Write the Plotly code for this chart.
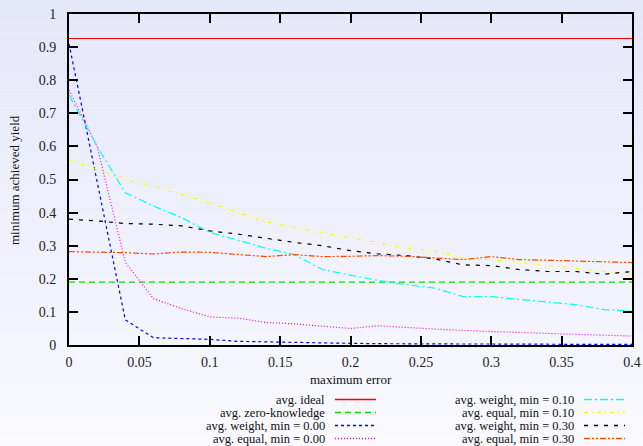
import plotly.graph_objects as go

# ---------------- data ----------------
max_error = [0.00, 0.02, 0.04, 0.06, 0.08, 0.10, 0.12, 0.14, 0.16, 0.18, 0.20,
             0.22, 0.24, 0.26, 0.28, 0.30, 0.32, 0.34, 0.36, 0.38, 0.40]

avg_ideal = [0.926] * len(max_error)
avg_zero_knowledge = [0.190] * len(max_error)

weight_min_000 = [0.910, 0.495, 0.076, 0.022, 0.020, 0.017, 0.011, 0.009, 0.007, 0.006, 0.005,
                  0.004, 0.003, 0.003, 0.003, 0.003, 0.002, 0.002, 0.002, 0.002, 0.002]
equal_min_000 = [0.770, 0.600, 0.250, 0.140, 0.110, 0.085, 0.081, 0.068, 0.064, 0.058, 0.050,
                 0.058, 0.052, 0.048, 0.044, 0.042, 0.038, 0.035, 0.032, 0.030, 0.027]
weight_min_010 = [0.755, 0.600, 0.460, 0.420, 0.385, 0.340, 0.317, 0.292, 0.273, 0.228, 0.211,
                  0.195, 0.182, 0.172, 0.146, 0.146, 0.138, 0.130, 0.122, 0.107, 0.103]
equal_min_010 = [0.560, 0.530, 0.500, 0.480, 0.455, 0.430, 0.400, 0.373, 0.355, 0.340, 0.325,
                 0.308, 0.293, 0.284, 0.262, 0.258, 0.250, 0.240, 0.232, 0.222, 0.210]
weight_min_030 = [0.380, 0.375, 0.367, 0.365, 0.360, 0.345, 0.335, 0.322, 0.310, 0.300, 0.285,
                  0.275, 0.270, 0.260, 0.242, 0.240, 0.228, 0.222, 0.222, 0.214, 0.222]
equal_min_030 = [0.282, 0.281, 0.279, 0.275, 0.281, 0.280, 0.274, 0.267, 0.273, 0.267, 0.268,
                 0.270, 0.268, 0.262, 0.258, 0.267, 0.258, 0.256, 0.254, 0.252, 0.249]

series_names = ["avg. ideal", "avg. zero-knowledge",
                "avg. weight, min = 0.00", "avg. equal, min = 0.00",
                "avg. weight, min = 0.10", "avg. equal, min = 0.10",
                "avg. weight, min = 0.30", "avg. equal, min = 0.30"]
series_values = [avg_ideal, avg_zero_knowledge, weight_min_000, equal_min_000,
                 weight_min_010, equal_min_010, weight_min_030, equal_min_030]

x_ticks = [0, 0.05, 0.1, 0.15, 0.2, 0.25, 0.3, 0.35, 0.4]
x_tick_labels = ["0", "0.05", "0.1", "0.15", "0.2", "0.25", "0.3", "0.35", "0.4"]
y_ticks = [0, 0.1, 0.2, 0.3, 0.4, 0.5, 0.6, 0.7, 0.8, 0.9, 1]
y_tick_labels = ["0", "0.1", "0.2", "0.3", "0.4", "0.5", "0.6", "0.7", "0.8", "0.9", "1"]

# ---------------- styles ----------------
colors = ["#ff0000", "#00e000", "#0000ff", "#ff00ff",
          "#00ffff", "#ffff00", "#000000", "#ff4500"]
dashes = ["solid", "6px,4px", "3px,3px", "1px,2px",
          "8px,3px,2px,3px", "4px,4px,1px,4px", "4px,6px", "6px,2px,2px,2px,2px,2px"]

W, H = 643, 446
L, R, T, B = 69, 11, 14, 101
PW, PH = W - L - R, H - T - B


def px_x(p):
    return (p - L) / PW


def px_y(p):
    return (H - B - p) / PH


FONT = "Liberation Serif"

fig = go.Figure()
for name, vals, c, d in zip(series_names, series_values, colors, dashes):
    fig.add_trace(go.Scatter(x=max_error, y=vals, mode="lines", name=name,
                             line=dict(color=c, width=1.2, dash=d),
                             showlegend=False, hoverinfo="skip"))

shapes = []
# gradient background bands
top_c = (229, 231, 250)
bot_c = (249, 249, 254)
n = 40
for i in range(n):
    y0 = H * i / n
    y1 = H * (i + 1) / n
    t = (i + 0.5) / n
    col = tuple(round(top_c[k] + (bot_c[k] - top_c[k]) * t) for k in range(3))
    shapes.append(dict(type="rect", xref="paper", yref="paper",
                       x0=px_x(0), x1=px_x(W), y0=px_y(y1), y1=px_y(y0),
                       fillcolor="rgb(%d,%d,%d)" % col, line=dict(width=0),
                       layer="below"))

annotations = []
# manual legend (text right-aligned, sample on the right)
rows_y = [399.5, 412.5, 425.5, 438.5]
cols = [(327, 335, 376), (576, 584, 625)]
for i, (name, c, d) in enumerate(zip(series_names, colors, dashes)):
    col = cols[i // 4]
    ry = rows_y[i % 4]
    annotations.append(dict(text=name, xref="paper", yref="paper",
                            x=px_x(col[0]), y=px_y(ry), xanchor="right", yanchor="middle",
                            showarrow=False, font=dict(family=FONT, size=12.5, color="#111")))
    shapes.append(dict(type="line", xref="paper", yref="paper",
                       x0=px_x(col[1]), x1=px_x(col[2]), y0=px_y(ry), y1=px_y(ry),
                       line=dict(color=c, width=1.5, dash=d)))

annotations.append(dict(text="maximum error", xref="paper", yref="paper",
                        x=0.5, y=px_y(379), xanchor="center", yanchor="middle",
                        showarrow=False, font=dict(family=FONT, size=13, color="#111")))
annotations.append(dict(text="minimum achieved yield", xref="paper", yref="paper",
                        x=px_x(14), y=px_y(180), xanchor="center", yanchor="middle",
                        textangle=-90, showarrow=False,
                        font=dict(family=FONT, size=13, color="#111")))

axis_common = dict(showline=True, linecolor="black", linewidth=2, mirror="ticks",
                   ticks="inside", ticklen=9, tickwidth=1.5, tickcolor="black",
                   showgrid=False, zeroline=False, automargin=False,
                   tickfont=dict(family=FONT, size=14, color="#222"))

fig.update_layout(
    width=W, height=H,
    margin=dict(l=L, r=R, t=T, b=B, pad=0, autoexpand=False),
    paper_bgcolor="rgb(249,249,254)",
    plot_bgcolor="rgba(0,0,0,0)",
    font=dict(family=FONT),
    showlegend=False,
    shapes=shapes,
    annotations=annotations,
    xaxis=dict(range=[0, 0.4], tickvals=x_ticks, ticktext=x_tick_labels,
               ticklabelstandoff=3, **axis_common),
    yaxis=dict(range=[0, 1], tickvals=y_ticks, ticktext=y_tick_labels,
               ticklabelstandoff=8, **axis_common),
)

fig.write_html("out.html",
               config={"displayModeBar": False},
               post_script="document.body.style.margin='0';document.body.style.padding='0';"
                           "document.documentElement.style.overflow='hidden';")
